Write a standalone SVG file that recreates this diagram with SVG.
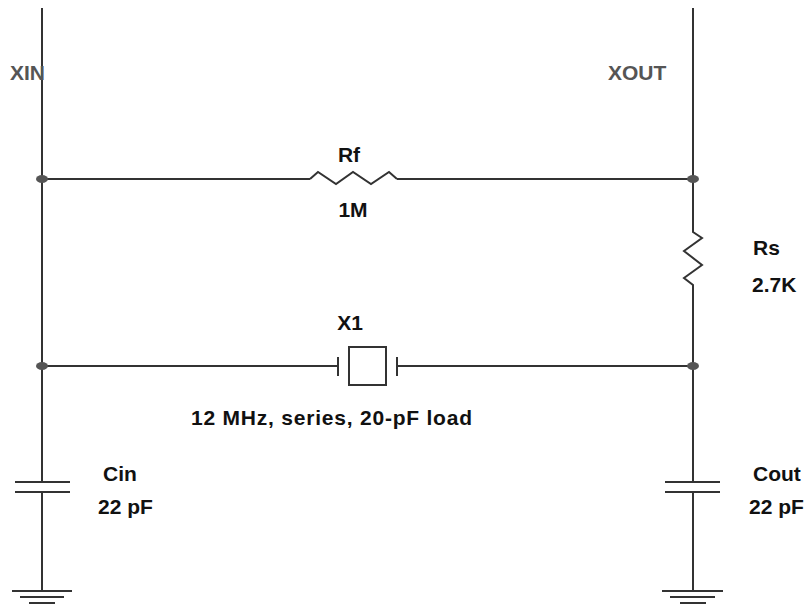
<svg xmlns="http://www.w3.org/2000/svg" width="809" height="607" viewBox="0 0 809 607">
<style>
.w{stroke:#333;stroke-width:2;fill:none}
.d{fill:#555}
.t{font-family:"Liberation Sans",Arial,sans-serif;font-weight:bold;font-size:21px;fill:#111}
.g{fill:#555}
</style>
<rect width="809" height="607" fill="#fff"/>
<g id="connectors">
<line class="w" x1="42" y1="8" x2="42" y2="591"/>
<line class="w" x1="693" y1="8" x2="693" y2="591"/>
<line class="w" x1="42" y1="179" x2="310" y2="179"/>
<line class="w" x1="397" y1="179" x2="693" y2="179"/>
<line class="w" x1="42" y1="366" x2="338" y2="366"/>
<line class="w" x1="397" y1="366" x2="693" y2="366"/>
</g>
<g id="XIN"><text class="t g" x="10" y="80">XIN</text></g>
<g id="XOUT"><text class="t g" x="608" y="80">XOUT</text></g>
<g id="nodes">
<ellipse class="d" cx="42" cy="179" rx="6" ry="4"/>
<ellipse class="d" cx="693" cy="179" rx="6" ry="4"/>
<ellipse class="d" cx="42" cy="366" rx="6" ry="4"/>
<ellipse class="d" cx="693" cy="366" rx="6" ry="4"/>
</g>
<g id="Rf">
<polyline class="w" points="310,179 318,172 336,184 353,172 371,184 389,172 397,179"/>
<text class="t" x="349" y="162" text-anchor="middle">Rf</text>
<text class="t" x="353" y="217" text-anchor="middle">1M</text>
</g>
<g id="Rs">
<rect x="682" y="216" width="24" height="76" fill="#fff"/>
<polyline class="w" points="693,216 693,232 702,238 684,251 702,265 684,278 693,285 693,292"/>
<text class="t" x="753" y="255">Rs</text>
<text class="t" x="752" y="292">2.7K</text>
</g>
<g id="X1">
<line class="w" x1="338" y1="357" x2="338" y2="376"/>
<rect class="w" x="349" y="347" width="37" height="38"/>
<line class="w" x1="397" y1="357" x2="397" y2="376"/>
<text class="t" x="350" y="330" text-anchor="middle">X1</text>
<text class="t" x="191" y="425" textLength="281" lengthAdjust="spacing">12 MHz, series, 20-pF load</text>
</g>
<g id="Cin">
<rect x="14" y="483" width="58" height="8" fill="#fff"/>
<line class="w" x1="15" y1="482" x2="70" y2="482"/>
<line class="w" x1="15" y1="492" x2="70" y2="492"/>
<text class="t" x="103" y="481">Cin</text>
<text class="t" x="98" y="514">22 pF</text>
</g>
<g id="Cout">
<rect x="664" y="483" width="58" height="8" fill="#fff"/>
<line class="w" x1="665" y1="482" x2="720" y2="482"/>
<line class="w" x1="665" y1="492" x2="720" y2="492"/>
<text class="t" x="753" y="481">Cout</text>
<text class="t" x="749" y="514">22 pF</text>
</g>
<g id="GND1">
<line class="w" x1="12" y1="591" x2="72" y2="591"/>
<line class="w" x1="20" y1="597" x2="64" y2="597"/>
<line class="w" x1="29" y1="603" x2="55" y2="603"/>
</g>
<g id="GND2">
<line class="w" x1="662" y1="591" x2="723" y2="591"/>
<line class="w" x1="670" y1="597" x2="715" y2="597"/>
<line class="w" x1="680" y1="603" x2="706" y2="603"/>
</g>
</svg>
